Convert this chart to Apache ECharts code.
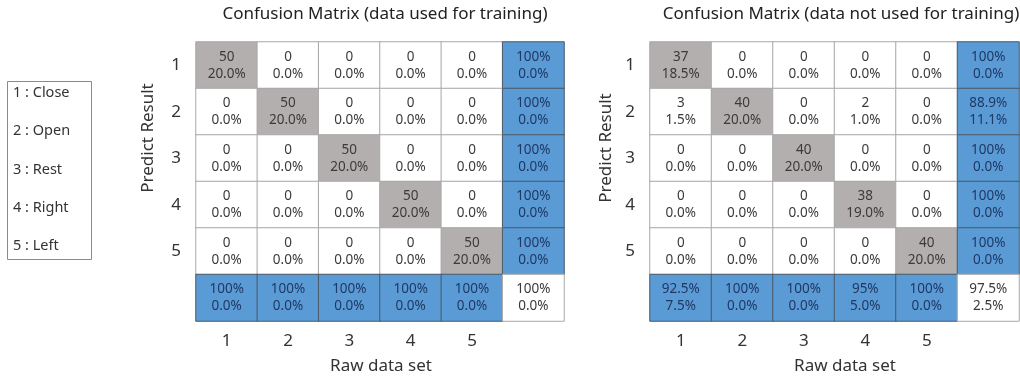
<!DOCTYPE html>
<html>
<head>
<meta charset="utf-8">
<script src="https://cdn.jsdelivr.net/npm/echarts@6/dist/echarts.min.js"></script>
<style>
  html, body { margin: 0; padding: 0; background: #fff; }
  #main { width: 1020px; height: 379px; }
</style>
</head>
<body>
<div id="main"></div>
<script>
// 类别
var classLabels = ['1', '2', '3', '4', '5'];
var legendItems = ['1 : Close', '2 : Open', '3 : Rest', '4 : Right', '5 : Left'];

// 训练数据 (行 = 预测, 列 = 实际)
var trainCounts = [
    [50, 0, 0, 0, 0],
    [0, 50, 0, 0, 0],
    [0, 0, 50, 0, 0],
    [0, 0, 0, 50, 0],
    [0, 0, 0, 0, 50]
];
var trainRowSummary = [['100%', '0.0%'], ['100%', '0.0%'], ['100%', '0.0%'], ['100%', '0.0%'], ['100%', '0.0%']];
var trainColSummary = [['100%', '0.0%'], ['100%', '0.0%'], ['100%', '0.0%'], ['100%', '0.0%'], ['100%', '0.0%']];
var trainTotal = ['100%', '0.0%'];

// 测试数据
var testCounts = [
    [37, 0, 0, 0, 0],
    [3, 40, 0, 2, 0],
    [0, 0, 40, 0, 0],
    [0, 0, 0, 38, 0],
    [0, 0, 0, 0, 40]
];
var testRowSummary = [['100%', '0.0%'], ['88.9%', '11.1%'], ['100%', '0.0%'], ['100%', '0.0%'], ['100%', '0.0%']];
var testColSummary = [['92.5%', '7.5%'], ['100%', '0.0%'], ['100%', '0.0%'], ['95%', '5.0%'], ['100%', '0.0%']];
var testTotal = ['97.5%', '2.5%'];

var GRAY = '#b4afaf';
var BLUE = '#5b9bd5';
var FONT = 'Noto Sans';

function buildCells(counts, rowSummary, colSummary, total) {
    var sum = 0;
    counts.forEach(function (r) { r.forEach(function (v) { sum += v; }); });
    var cells = [];
    for (var r = 0; r < 5; r++) {
        for (var c = 0; c < 5; c++) {
            var v = counts[r][c];
            cells.push({
                value: [c, r, r == c ? 1 : 0],
                name: v + '\n' + (v / sum * 100).toFixed(1) + '%',
                itemStyle: { borderColor: '#a8a8a8' },
                label: { color: '#3a3a3a' }
            });
        }
        cells.push({
            value: [5, r, 2],
            name: rowSummary[r].join('\n'),
            itemStyle: { borderColor: '#4a5866' },
            label: { color: '#1f3864' }
        });
    }
    for (var c2 = 0; c2 < 5; c2++) {
        cells.push({
            value: [c2, 5, 2],
            name: colSummary[c2].join('\n'),
            itemStyle: { borderColor: '#4a5866' },
            label: { color: '#1f3864' }
        });
    }
    cells.push({
        value: [5, 5, 0],
        name: total.join('\n'),
        itemStyle: { borderColor: '#a8a8a8' },
        label: { color: '#3a3a3a' }
    });
    return cells;
}

function makeAxes(idx) {
    var x = {
        type: 'category', gridIndex: idx, data: classLabels.concat(['']),
        axisLine: { show: false }, axisTick: { show: false }, splitLine: { show: false },
        axisLabel: { fontSize: 17, color: '#333', margin: 12, fontFamily: FONT }
    };
    var y = {
        type: 'category', gridIndex: idx, inverse: true, data: classLabels.concat(['']),
        axisLine: { show: false }, axisTick: { show: false }, splitLine: { show: false },
        axisLabel: { fontSize: 17, color: '#333', margin: 15, fontFamily: FONT }
    };
    return [x, y];
}

var chart = echarts.init(document.getElementById('main'));
var a0 = makeAxes(0), a1 = makeAxes(1);

var option = {
    backgroundColor: '#fff',
    animation: false,
    title: [
        { text: 'Confusion Matrix (data used for training)', left: 380, top: 1, textAlign: 'center',
          textStyle: { fontSize: 17, fontWeight: 'normal', color: '#222', fontFamily: FONT } },
        { text: 'Confusion Matrix (data not used for training)', left: 836, top: 1, textAlign: 'center',
          textStyle: { fontSize: 17, fontWeight: 'normal', color: '#222', fontFamily: FONT } }
    ],
    grid: [
        { left: 196, top: 42, width: 368, height: 279 },
        { left: 650, top: 42, width: 369, height: 279 }
    ],
    xAxis: [a0[0], a1[0]],
    yAxis: [a0[1], a1[1]],
    visualMap: {
        show: false, type: 'piecewise', dimension: 2, seriesIndex: [0, 1],
        pieces: [
            { value: 0, color: '#ffffff' },
            { value: 1, color: GRAY },
            { value: 2, color: BLUE }
        ]
    },
    series: [
        {
            type: 'heatmap', xAxisIndex: 0, yAxisIndex: 0,
            data: buildCells(trainCounts, trainRowSummary, trainColSummary, trainTotal),
            itemStyle: { borderWidth: 1 },
            label: { show: true, formatter: '{b}', fontSize: 13.5, lineHeight: 17, fontFamily: FONT }
        },
        {
            type: 'heatmap', xAxisIndex: 1, yAxisIndex: 1,
            data: buildCells(testCounts, testRowSummary, testColSummary, testTotal),
            itemStyle: { borderWidth: 1 },
            label: { show: true, formatter: '{b}', fontSize: 13.5, lineHeight: 17, fontFamily: FONT }
        }
    ],
    graphic: [
        // 轴标题
        { type: 'text', x: 148, y: 138, rotation: Math.PI / 2,
          style: { text: 'Predict Result', fontSize: 17, fill: '#333', fontFamily: FONT, align: 'center', verticalAlign: 'middle' } },
        { type: 'text', x: 606, y: 148, rotation: Math.PI / 2,
          style: { text: 'Predict Result', fontSize: 17, fill: '#333', fontFamily: FONT, align: 'center', verticalAlign: 'middle' } },
        { type: 'text', x: 381, y: 366,
          style: { text: 'Raw data set', fontSize: 17, fill: '#333', fontFamily: FONT, align: 'center', verticalAlign: 'middle' } },
        { type: 'text', x: 845, y: 366,
          style: { text: 'Raw data set', fontSize: 17, fill: '#333', fontFamily: FONT, align: 'center', verticalAlign: 'middle' } },
        // 图例框
        { type: 'rect', shape: { x: 7.5, y: 81.5, width: 84, height: 178 },
          style: { fill: '#fff', stroke: '#8a8a8a', lineWidth: 1 } }
    ].concat(legendItems.map(function (t, i) {
        return { type: 'text', x: 13, y: 93 + i * 38.3,
                 style: { text: t, fontSize: 14.5, fill: '#333', fontFamily: FONT, verticalAlign: 'middle' } };
    }))
};

chart.setOption(option);
</script>
</body>
</html>
